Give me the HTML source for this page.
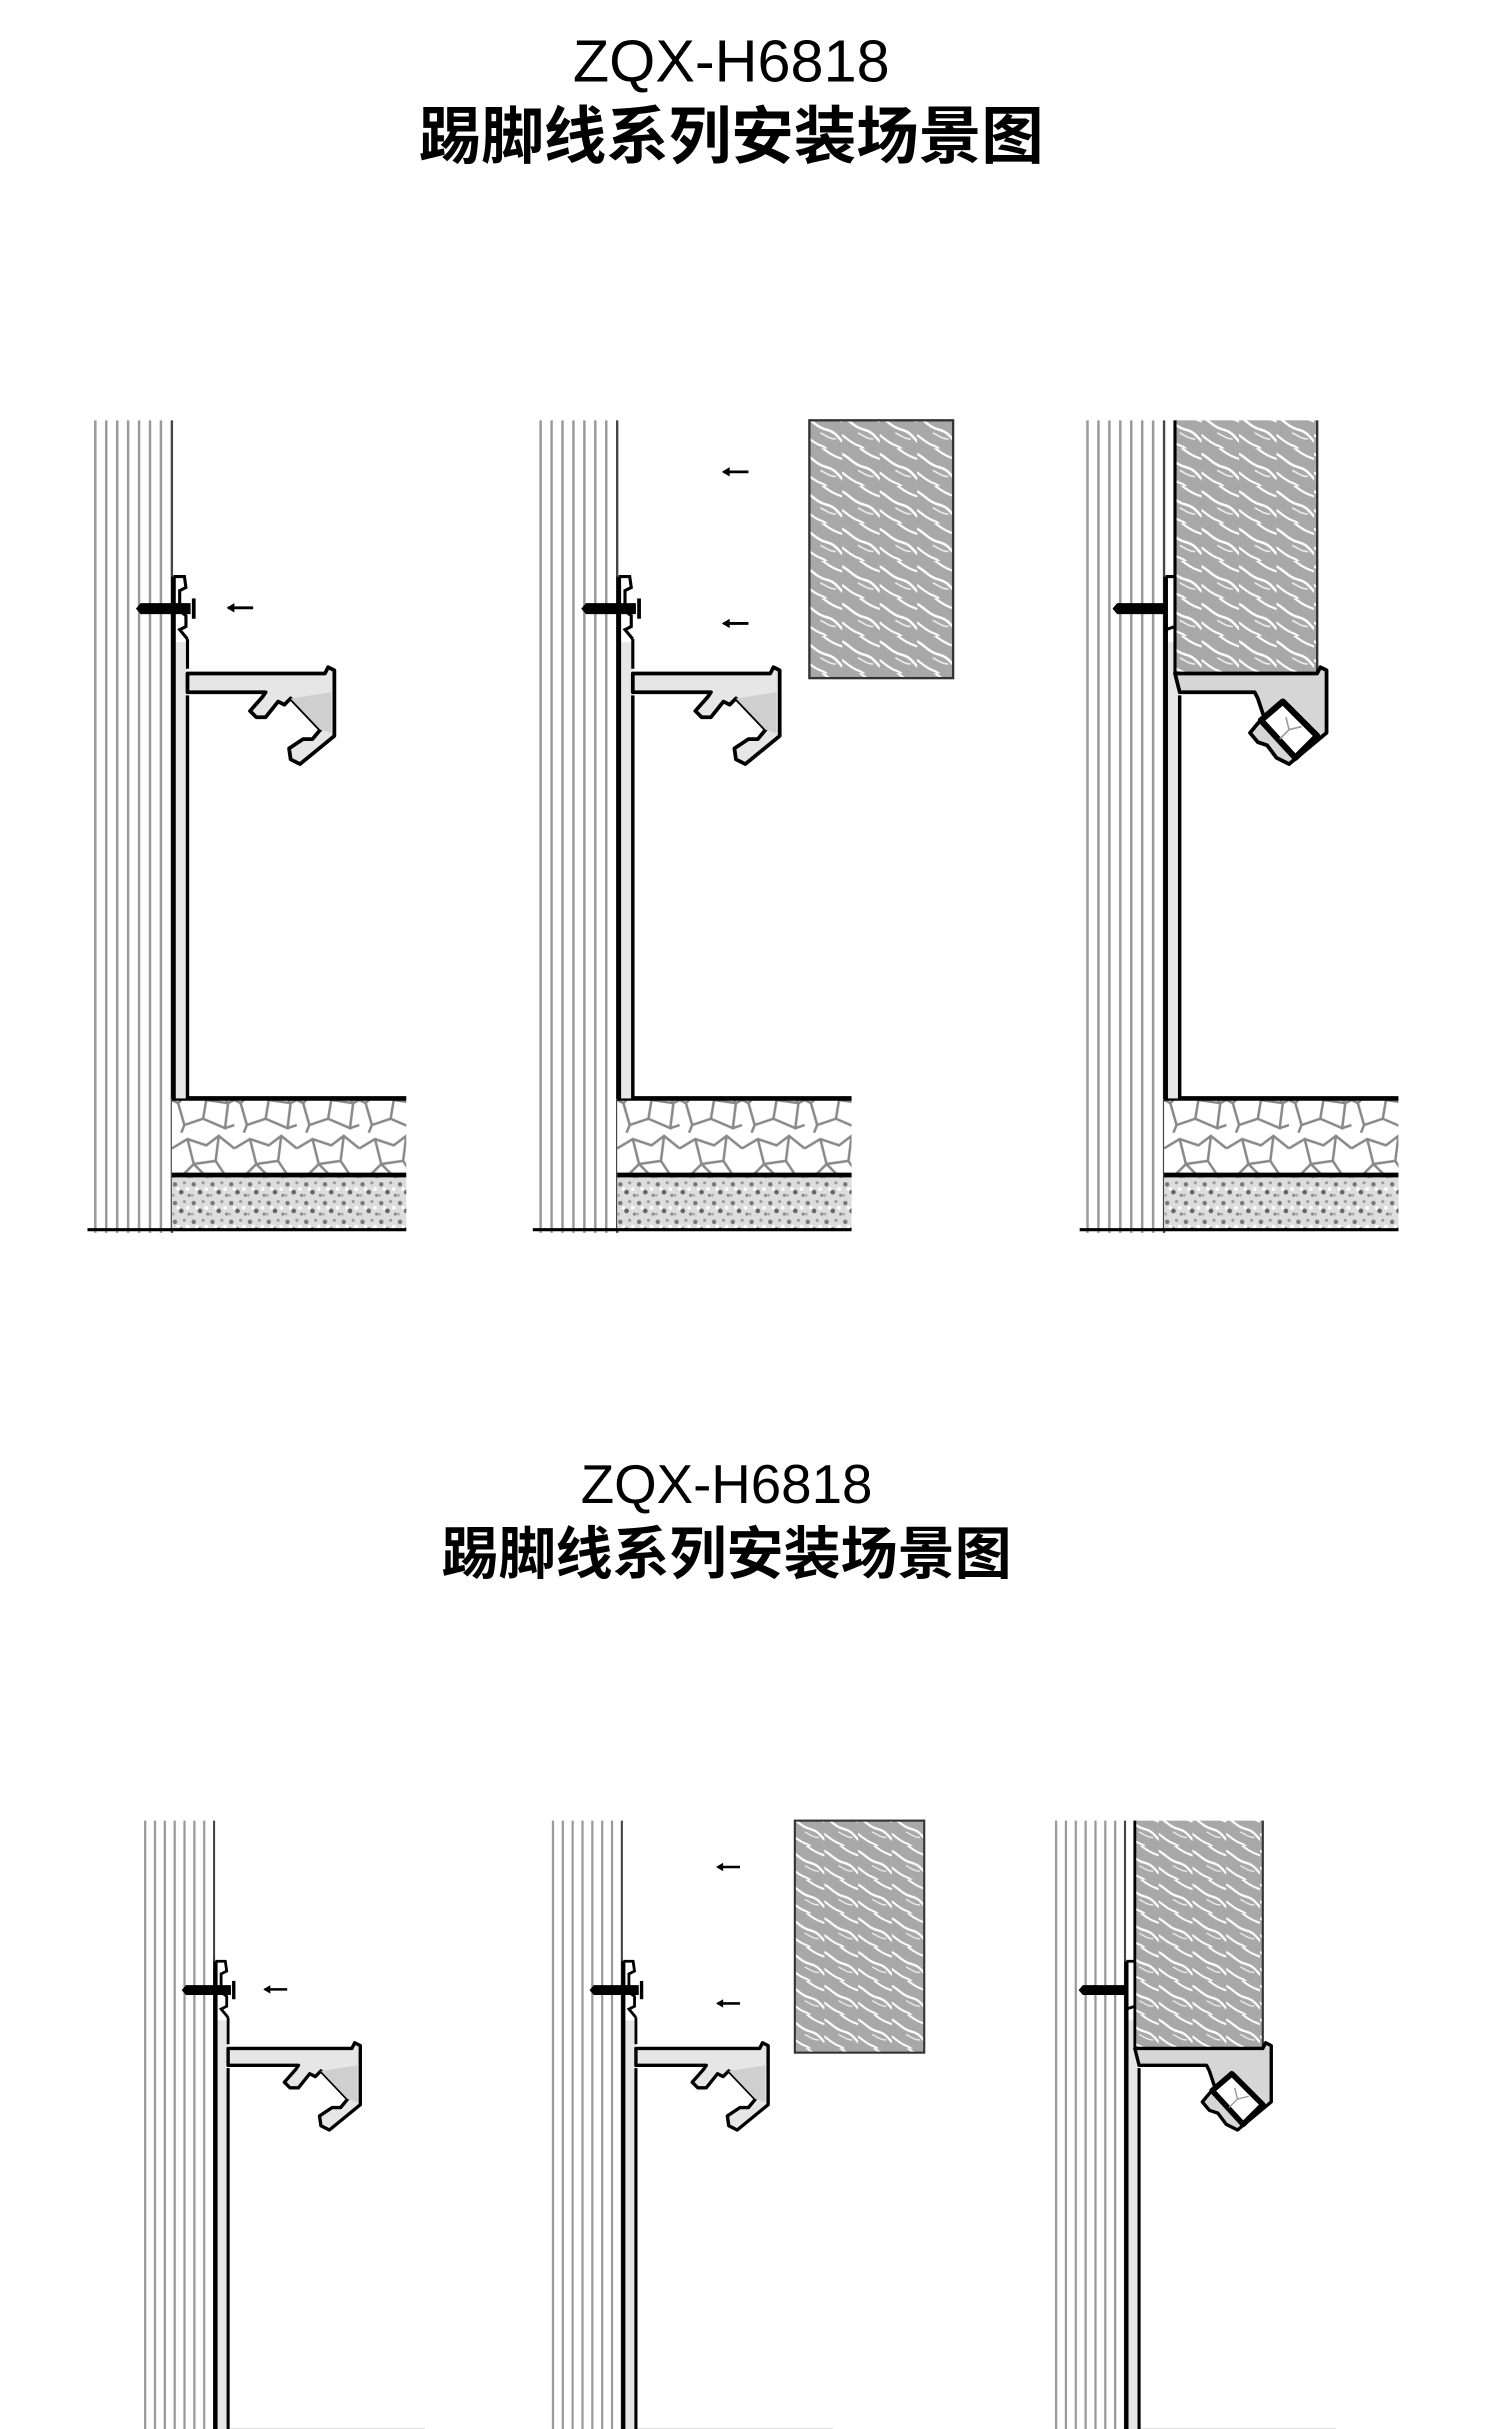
<!DOCTYPE html>
<html><head><meta charset="utf-8"><style>
html,body{margin:0;padding:0;background:#fff;overflow:hidden;width:1500px;height:2429px;}
svg{display:block;}
</style></head><body>
<svg width="1500" height="2429" viewBox="0 0 960 1554.56" xmlns="http://www.w3.org/2000/svg">
<defs>
  <pattern id="wood" patternUnits="userSpaceOnUse" width="24" height="24">
    <rect width="24" height="24" fill="#a8a8a8"/>
    <path d="M-4,2 C4,4 6,10 14,12 S22,20 28,22" stroke="#fff" stroke-width="1.6" fill="none"/>
    <path d="M6,-4 C12,0 16,4 22,6 S28,10 30,12" stroke="#fff" stroke-width="1.4" fill="none"/>
    <path d="M-6,12 C0,14 4,20 10,22 S16,28 20,30" stroke="#fff" stroke-width="1.4" fill="none"/>
    <path d="M10,14 C14,16 16,18 20,18" stroke="#eee" stroke-width="1" fill="none"/>
  </pattern>
  <pattern id="stone" patternUnits="userSpaceOnUse" width="40" height="49">
    <rect width="40" height="49" fill="#fff"/>
    <path d="M0,10 L10,4 L22,8 L30,2 L40,10 M10,4 L14,20 L4,30 L0,28 M14,20 L28,18 L30,2 M28,18 L36,30 L40,28 M4,30 L8,44 L20,40 L22,28 L14,20 M22,28 L36,30 L34,46 L20,40 M8,44 L6,49 M34,46 L40,44" stroke="#888" stroke-width="1.6" fill="none"/>
  </pattern>
  <pattern id="gravel" patternUnits="userSpaceOnUse" width="12" height="12">
    <rect width="12" height="12" fill="#ddd"/>
    <circle cx="2" cy="3" r="1.4" fill="#777"/>
    <circle cx="8" cy="2" r="1" fill="#999"/>
    <circle cx="6" cy="8" r="1.5" fill="#666"/>
    <circle cx="11" cy="10" r="1" fill="#888"/>
    <circle cx="1" cy="10" r="0.9" fill="#aaa"/>
    <circle cx="10" cy="6" r="1.2" fill="#fff"/>
    <circle cx="4" cy="6" r="1.1" fill="#fff"/>
  </pattern>
  <g id="wall">
    <rect x="-52" y="-162" width="52" height="520" fill="#fff"/>
    <g stroke="#9a9a9a" stroke-width="1.6">
      <line x1="-49" y1="-162" x2="-49" y2="358"/>
      <line x1="-42" y1="-162" x2="-42" y2="358"/>
      <line x1="-35" y1="-162" x2="-35" y2="358"/>
      <line x1="-28" y1="-162" x2="-28" y2="358"/>
      <line x1="-21" y1="-162" x2="-21" y2="358"/>
      <line x1="-14" y1="-162" x2="-14" y2="358"/>
      <line x1="-7" y1="-162" x2="-7" y2="358"/>
    </g>
    <line x1="0" y1="-162" x2="0" y2="358" stroke="#444" stroke-width="1.5"/>
  </g>
  <g id="floor">
    <rect x="0" y="272" width="150" height="49" fill="url(#stone)"/>
    <rect x="0" y="321" width="150" height="35" fill="url(#gravel)"/>
    <line x1="0" y1="272" x2="150" y2="272" stroke="#000" stroke-width="3"/>
    <line x1="0" y1="321" x2="150" y2="321" stroke="#000" stroke-width="3"/>
    <line x1="-54" y1="356" x2="150" y2="356" stroke="#000" stroke-width="2"/>
  </g>
  <g id="profile">
    <rect x="0" y="-20" width="10" height="292" fill="#e6e6e6"/>
    <line x1="1" y1="-62" x2="1" y2="272" stroke="#000" stroke-width="3"/>
    <line x1="10" y1="-22" x2="10" y2="-3" stroke="#000" stroke-width="2"/>
    <line x1="10" y1="14" x2="10" y2="272" stroke="#000" stroke-width="2.2"/>
    <path d="M1,-62 H8 L9,-55 L5,-53 L5,-40 L9,-37 L9,-30 L5,-28 L10,-22" fill="none" stroke="#000" stroke-width="2"/>
    <path d="M10,0 H98 L100,-4 L104,-2 L104,40 L82,58 L76,55 L75,48 L84,42 L90,42 L95,36 L76,16 L72,20 L68,18 L60,28 L54,28 L50,24 L58,15 L60,12 H10 Z" fill="#e6e6e6" stroke="#000" stroke-width="2.4" stroke-linejoin="round"/>
    <path d="M76,16 L102,12 L102,38 L95,36 Z" fill="#cfcfcf"/>
  </g>
  <g id="screw">
    <path d="M-20,-45 L12,-45 L12,-38 L-20,-38 L-23,-41.5 Z" fill="#000"/>
    <line x1="14" y1="-48" x2="14" y2="-35" stroke="#000" stroke-width="2.4"/>
  </g>
  <g id="arr">
    <line x1="0" y1="0" x2="16" y2="0" stroke="#000" stroke-width="1.8"/>
    <path d="M-1,0 L4,-3 L4,3 Z" fill="#000"/>
  </g>
  <g id="panelA">
    <use href="#wall"/><use href="#floor"/><use href="#profile"/><use href="#screw"/>
    <use href="#arr" x="36" y="-42"/>
  </g>
  <g id="panelB">
    <use href="#wall"/><use href="#floor"/><use href="#profile"/><use href="#screw"/>
    <use href="#arr" x="68" y="-129"/>
    <use href="#arr" x="68" y="-32"/>
    <rect x="123" y="-162" width="92" height="165" fill="url(#wood)" stroke="#333" stroke-width="1.5"/>
  </g>
  <g id="panelC">
    <use href="#wall"/><use href="#floor"/>
    <rect x="0" y="-20" width="10" height="292" fill="#e6e6e6"/>
    <line x1="1" y1="-62" x2="1" y2="272" stroke="#000" stroke-width="3"/>
    <line x1="10" y1="14" x2="10" y2="272" stroke="#000" stroke-width="2.2"/>
    <rect x="7" y="-162" width="91" height="162" fill="url(#wood)"/>
    <line x1="98" y1="-162" x2="98" y2="0" stroke="#333" stroke-width="1.5"/>
    <line x1="7" y1="-162" x2="7" y2="0" stroke="#000" stroke-width="2"/>
    <path d="M7,-62 H1 M7,-30 L1,-28" stroke="#000" stroke-width="2"/>
    <path d="M-30,-45 L0,-45 L0,-38 L-30,-38 L-33,-41.5 Z" fill="#000"/>
    <path d="M7,0 H98 L100,-4 L104,-2 L104,38 L80,58 L72,54 L66,46 L60,44 L55,38 L60,32 L64,28 L60,16 L58,12 H10 Z" fill="#d6d6d6" stroke="#000" stroke-width="2.4" stroke-linejoin="round"/>
    <path d="M62,30 L76,18 L98,40 L84,54 Z" fill="#fff" stroke="#000" stroke-width="4" stroke-linejoin="round"/>
    <path d="M80,36 L74,42 M80,36 L88,34 M80,36 L78,28" stroke="#999" stroke-width="1"/>
  </g>
</defs>

<text x="468" y="52" text-anchor="middle" font-family="Liberation Sans, sans-serif" font-size="38" fill="#000">ZQX-H6818</text>
<text x="468" y="101" text-anchor="middle" font-family="Liberation Sans, 'Noto Sans CJK SC', sans-serif" font-size="40" font-weight="bold" fill="#000">踢脚线系列安装场景图</text>

<use href="#panelA" transform="translate(110,431)"/>
<use href="#panelB" transform="translate(395,431)"/>
<use href="#panelC" transform="translate(745,431)"/>

<text x="465" y="962" text-anchor="middle" font-family="Liberation Sans, sans-serif" font-size="35" fill="#000">ZQX-H6818</text>
<text x="465" y="1007" text-anchor="middle" font-family="Liberation Sans, 'Noto Sans CJK SC', sans-serif" font-size="36.5" font-weight="bold" fill="#000">踢脚线系列安装场景图</text>

<use href="#panelA" transform="translate(137,1311) scale(0.9)"/>
<use href="#panelB" transform="translate(398,1311) scale(0.9)"/>
<use href="#panelC" transform="translate(720,1311) scale(0.9)"/>
</svg>
</body></html>
